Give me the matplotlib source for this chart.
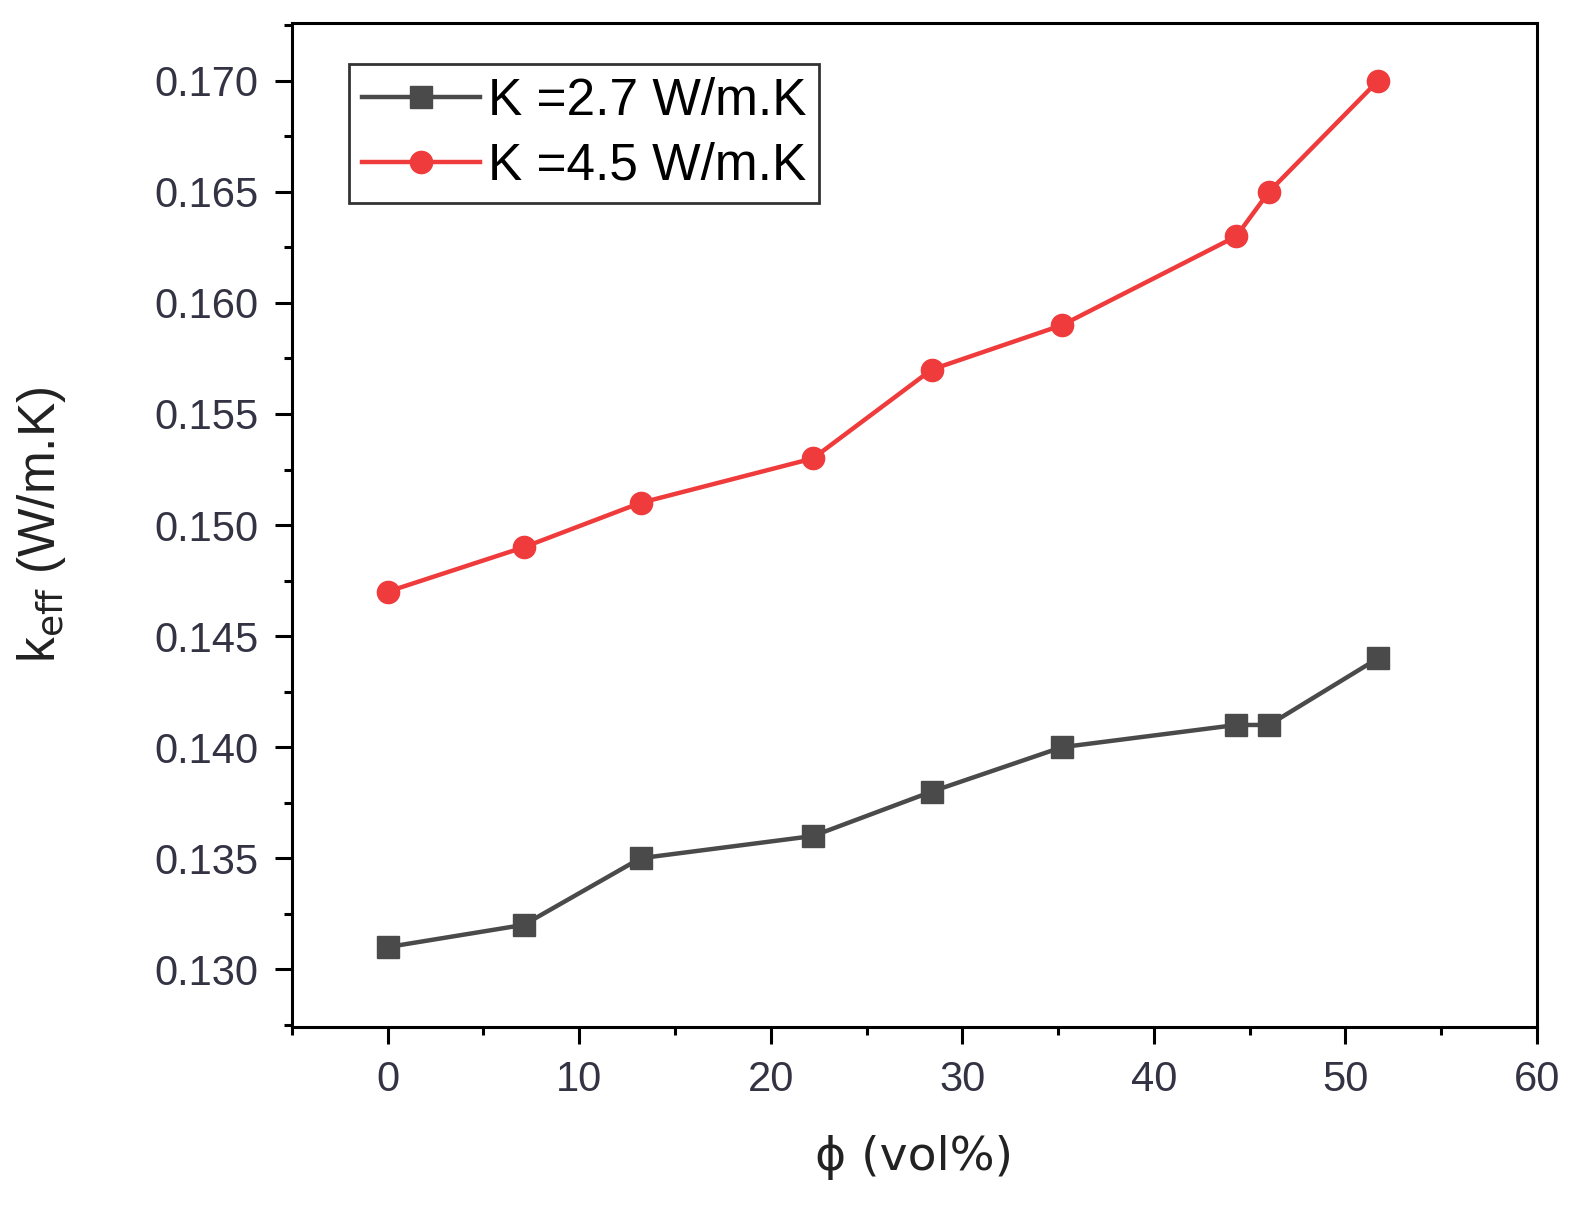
import matplotlib
matplotlib.use("Agg")
import matplotlib.pyplot as plt
from matplotlib.ticker import MultipleLocator

plt.rcParams['font.family'] = ['Liberation Sans', 'DejaVu Sans']

# volume fraction (vol%)
phi = [0, 7.1, 13.2, 22.2, 28.4, 35.2, 44.3, 46.0, 51.7]
# effective conductivity, W/m.K
k_27 = [0.131, 0.132, 0.135, 0.136, 0.138, 0.140, 0.141, 0.141, 0.144]
k_45 = [0.147, 0.149, 0.151, 0.153, 0.157, 0.159, 0.163, 0.165, 0.170]

labels = ['K =2.7 W/m.K', 'K =4.5 W/m.K']

fig = plt.figure(figsize=(15.9, 12.14), dpi=100)
ax = fig.add_axes([0.1836, 0.154, 0.7831, 0.827])

ax.plot(phi, k_27, color='#4a4a4a', lw=3.2, marker='s', ms=16, label=labels[0])
ax.plot(phi, k_45, color='#ef3b3b', lw=3.2, marker='o', ms=16, label=labels[1])

ax.set_xlim(-5, 60)
ax.set_ylim(0.1274, 0.1726)
ax.xaxis.set_major_locator(MultipleLocator(10))
ax.xaxis.set_minor_locator(MultipleLocator(5))
ax.yaxis.set_major_locator(MultipleLocator(0.005))
ax.yaxis.set_minor_locator(MultipleLocator(0.0025))
ax.yaxis.set_major_formatter(plt.FormatStrFormatter('%.3f'))

for s in ax.spines.values():
    s.set_linewidth(2.2)
ax.tick_params(which='both', direction='out', width=2.2, colors='black',
               labelcolor='#333344', labelsize=30, top=False, right=False)
ax.tick_params(which='major', length=12, pad=12)
ax.tick_params(which='minor', length=6)

ax.set_xlabel('ϕ (vol%)', fontsize=34, color='#222222', labelpad=25,
              family=['DejaVu Sans'])
ax.set_ylabel(r'k$_{\mathrm{eff}}$ (W/m.K)', fontsize=37, color='#222222', labelpad=62)

leg = ax.legend(loc='upper left', bbox_to_anchor=(0.046, 0.959), fontsize=37,
                frameon=True, fancybox=False, edgecolor='black',
                handlelength=2.3, handletextpad=0.15, borderpad=0.25,
                labelspacing=0.3, borderaxespad=0)
leg.get_frame().set_linewidth(2)

fig.savefig('out.png', dpi=100)
